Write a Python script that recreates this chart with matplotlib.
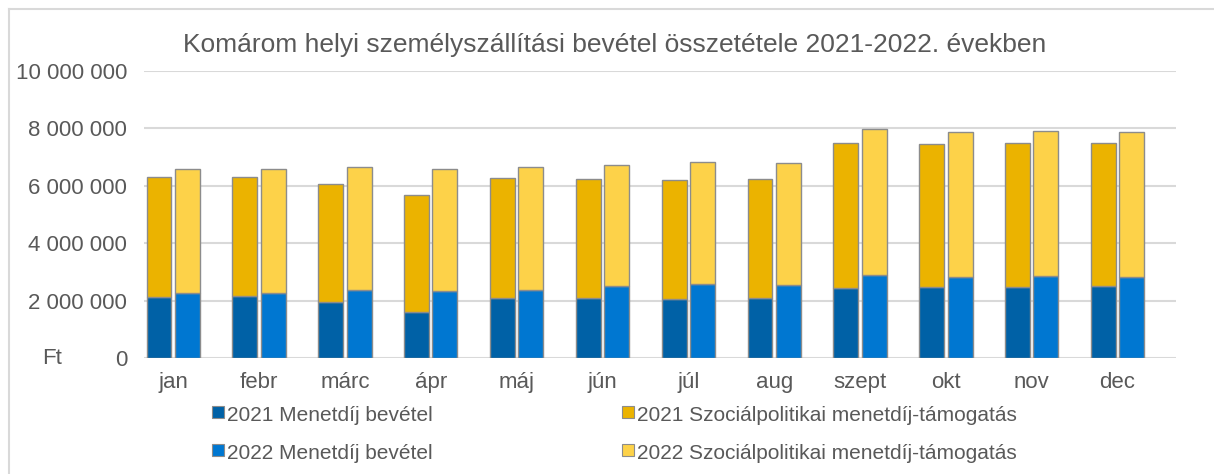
import numpy as np
import matplotlib.pyplot as plt
from matplotlib.patches import Rectangle
from matplotlib.lines import Line2D
from matplotlib.ticker import FuncFormatter

plt.rcParams['font.family'] = ['Liberation Sans', 'DejaVu Sans']

months = ['jan', 'febr', 'márc', 'ápr', 'máj', 'jún', 'júl', 'aug', 'szept', 'okt', 'nov', 'dec']

# 2021
menetdij_2021 = [2140000, 2150000, 1950000, 1590000, 2090000, 2080000, 2040000, 2090000, 2450000, 2470000, 2470000, 2500000]
osszes_2021 = [6310000, 6320000, 6080000, 5690000, 6270000, 6250000, 6190000, 6240000, 7490000, 7460000, 7480000, 7500000]
# 2022
menetdij_2022 = [2270000, 2280000, 2360000, 2320000, 2360000, 2500000, 2590000, 2550000, 2890000, 2820000, 2860000, 2830000]
osszes_2022 = [6600000, 6580000, 6640000, 6600000, 6640000, 6740000, 6840000, 6790000, 7990000, 7890000, 7910000, 7890000]

szoc_2021 = np.array(osszes_2021) - np.array(menetdij_2021)
szoc_2022 = np.array(osszes_2022) - np.array(menetdij_2022)

labels = ['2021 Menetdíj bevétel', '2021 Szociálpolitikai menetdíj-támogatás',
          '2022 Menetdíj bevétel', '2022 Szociálpolitikai menetdíj-támogatás']
colors = ['#0061A6', '#EBB300', '#0077D1', '#FDD249']
szurke = '#595959'

W, H = 1214, 474
fig = plt.figure(figsize=(W / 100, H / 100), dpi=100)
ax = fig.add_axes([144 / W, 1 - 358 / H, (1176 - 144) / W, (358 - 71) / H])

x = np.arange(len(months))
w = 0.29
off = 0.165
ec = '#8c8c8c'
ax.bar(x - off, menetdij_2021, w, color=colors[0], edgecolor=ec, linewidth=1, zorder=3)
ax.bar(x - off, szoc_2021, w, bottom=menetdij_2021, color=colors[1], edgecolor=ec, linewidth=1, zorder=3)
ax.bar(x + off, menetdij_2022, w, color=colors[2], edgecolor=ec, linewidth=1, zorder=3)
ax.bar(x + off, szoc_2022, w, bottom=menetdij_2022, color=colors[3], edgecolor=ec, linewidth=1, zorder=3)

ax.set_xlim(-0.34, 11.68)
ax.set_ylim(0, 10000000)
ax.set_yticks(np.arange(0, 10000001, 2000000))
ax.yaxis.set_major_formatter(FuncFormatter(lambda v, p: '{:,.0f}'.format(v).replace(',', ' ')))
ax.set_xticks(x)
ax.set_xticklabels(months)
ax.grid(axis='y', color='#d9d9d9', linewidth=1.5, zorder=0)
for s in ax.spines.values():
    s.set_visible(False)
ax.tick_params(axis='both', length=0, labelsize=16, labelcolor=szurke)
ax.tick_params(axis='y', pad=12)
ax.tick_params(axis='x', pad=10)

fig.text(615 / W, 1 - 45 / H, 'Komárom helyi személyszállítási bevétel összetétele 2021-2022. években',
         ha='center', va='center', fontsize=19, color=szurke)
fig.text(52 / W, 1 - 358 / H, 'Ft', ha='center', va='center', fontsize=16, color=szurke)

# jelmagyarázat kézzel elhelyezve
jel_x = [212, 622]
jel_y = [411.5, 450]     # négyzetek közepe
alapvonal = [421, 459]   # szöveg alapvonala
hely = [(0, 0), (1, 0), (0, 1), (1, 1)]
for lab, col, (c, r) in zip(labels, colors, hely):
    mx, my = jel_x[c], jel_y[r]
    fig.add_artist(Rectangle((mx / W, 1 - (my + 6) / H), 12 / W, 12 / H,
                             facecolor=col, edgecolor=ec, linewidth=0.8, transform=fig.transFigure))
    fig.text((mx + 15) / W, 1 - alapvonal[r] / H, lab, ha='left', va='baseline', fontsize=15,
             color=szurke)

# külső keret (felső és bal oldal látszik)
fig.add_artist(Line2D([8.5 / W, 1], [1 - 8.5 / H, 1 - 8.5 / H], color='#d9d9d9', linewidth=1.5))
fig.add_artist(Line2D([8.5 / W, 8.5 / W], [0, 1 - 8.5 / H], color='#d9d9d9', linewidth=1.5))

fig.savefig('out.png', dpi=100)
